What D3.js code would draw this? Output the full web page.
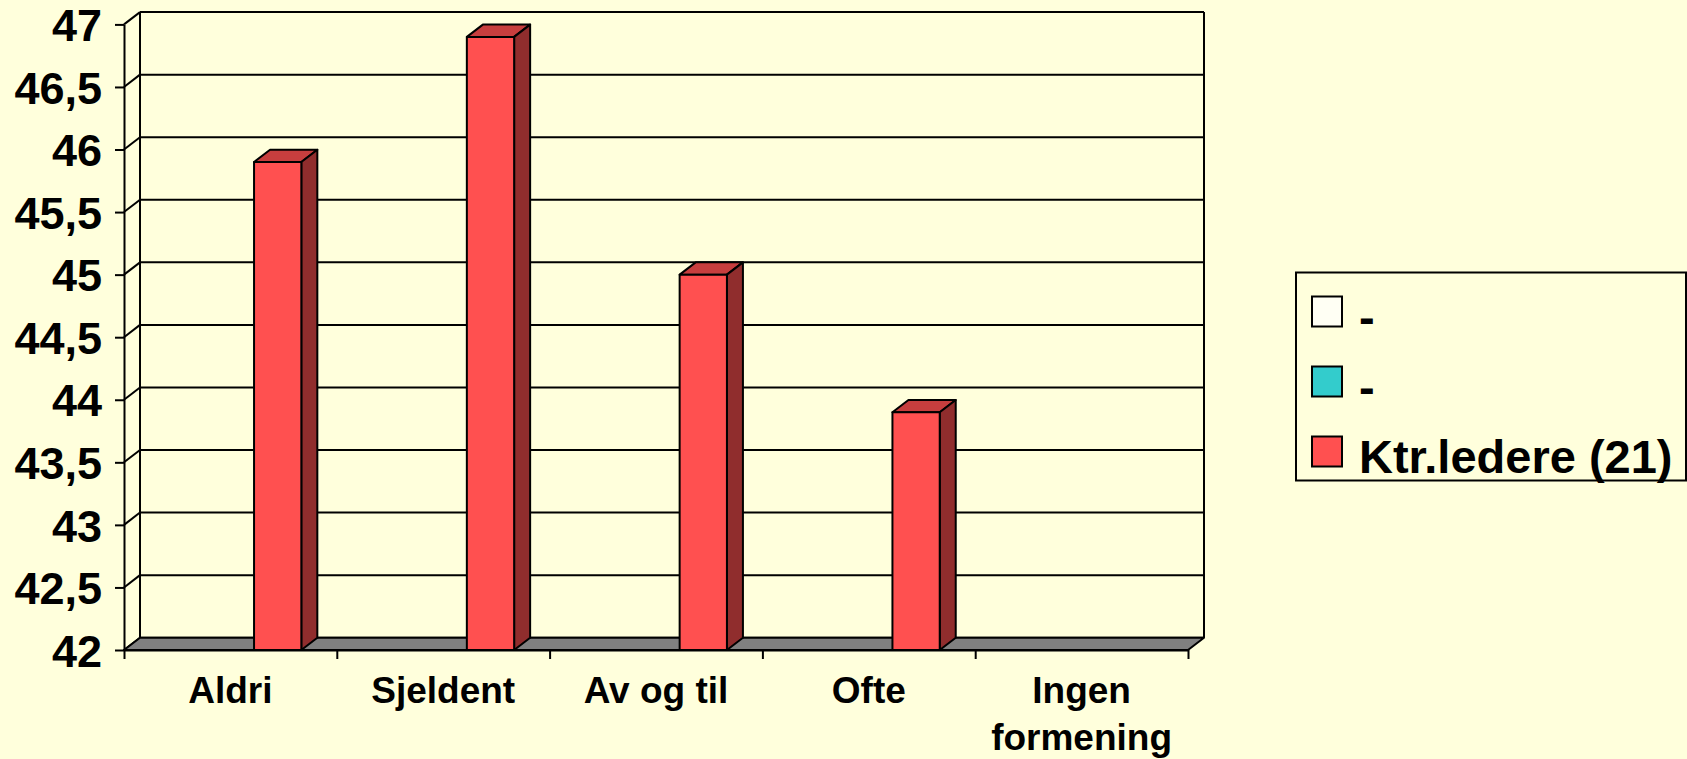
<!DOCTYPE html>
<html>
<head>
<meta charset="utf-8">
<script src="https://cdn.jsdelivr.net/npm/d3@7"></script>
<style>
  html, body { margin: 0; padding: 0; background: #ffffdc; }
  svg { display: block; font-family: "Liberation Sans", Arial, sans-serif; font-weight: bold; }
</style>
</head>
<body>
<div id="chart"></div>
<script>
// data
var categories = ['Aldri', 'Sjeldent', 'Av og til', 'Ofte', 'Ingen formening'];
var seriesNames = ['-', '-', 'Ktr.ledere (21)'];
var seriesColors = ['#fffff4', '#33cccc', '#ff5050'];
var serie1 = [null, null, null, null, null];
var serie2 = [null, null, null, null, null];
var ktrLedere = [45.9, 46.9, 45.0, 43.9, null];
var yTicks = [42, 42.5, 43, 43.5, 44, 44.5, 45, 45.5, 46, 46.5, 47];

var width = 1687, height = 759;
var dx = 16, dy = 12.3;   // 3d depth
var plotLeft = 124, plotRight = 1188, plotBottom = 650, plotTop = 24.4;

var svg = d3.select('#chart').append('svg')
	.attr('width', width)
	.attr('height', height);

svg.append('rect').attr('width', width).attr('height', height).attr('fill', '#ffffdc');

//scalers
var x = d3.scaleBand().domain(d3.range(categories.length)).range([plotLeft, plotRight]);
var xs = d3.scaleBand().domain(d3.range(seriesNames.length))
	.range([0, x.bandwidth()])
	.paddingOuter(0.75);
var y = d3.scaleLinear().domain([42, 47]).range([plotBottom, plotTop]);

var values = [serie1, serie2, ktrLedere];
var bars = [];
values.forEach(function(vals, s){
	vals.forEach(function(v, i){
		if (v != null) bars.push({s: s, i: i, v: v});
	});
});

// back wall gridlines + side wall lines
var grid = svg.append('g').attr('stroke', '#000').attr('stroke-width', 2).attr('fill', 'none');
grid.selectAll('.gh')
	.data(yTicks)
	.enter().append('line')
	.attr('x1', plotLeft + dx).attr('x2', plotRight + dx)
	.attr('y1', function(d){ return y(d) - dy; })
	.attr('y2', function(d){ return y(d) - dy; });
grid.selectAll('.gd')
	.data(yTicks)
	.enter().append('line')
	.attr('x1', plotLeft).attr('x2', plotLeft + dx)
	.attr('y1', function(d){ return y(d); })
	.attr('y2', function(d){ return y(d) - dy; });
// wall edges
grid.append('line').attr('x1', plotLeft + dx).attr('x2', plotLeft + dx).attr('y1', y(47) - dy).attr('y2', y(42) - dy);
grid.append('line').attr('x1', plotRight + dx).attr('x2', plotRight + dx).attr('y1', y(47) - dy).attr('y2', y(42) - dy);

// floor
svg.append('path')
	.attr('d', d3.line()([[plotLeft + dx, y(42) - dy], [plotRight + dx, y(42) - dy], [plotRight, y(42)], [plotLeft, y(42)]]) + 'Z')
	.attr('fill', '#808080')
	.attr('stroke', '#000')
	.attr('stroke-width', 2)
	.attr('stroke-linejoin', 'round');

// bars
var bar = svg.append('g').selectAll('g')
	.data(bars)
	.enter().append('g')
	.attr('stroke', '#000').attr('stroke-width', 2).attr('stroke-linejoin', 'round');

function geo(d){
	var xl = x(d.i) + xs(d.s), w = xs.bandwidth(), yt = y(d.v), yb = y(42);
	return {xl: xl, w: w, yt: yt, yb: yb};
}
bar.append('path')
	.attr('fill', function(d){ return d3.color(seriesColors[d.s]).darker(0.7); })
	.attr('d', function(d){
		var g = geo(d);
		return d3.line()([[g.xl, g.yt], [g.xl + dx, g.yt - dy], [g.xl + g.w + dx, g.yt - dy], [g.xl + g.w, g.yt]]) + 'Z';
	});
bar.append('path')
	.attr('fill', function(d){ return d3.color(seriesColors[d.s]).darker(1.6); })
	.attr('d', function(d){
		var g = geo(d);
		return d3.line()([[g.xl + g.w, g.yt], [g.xl + g.w + dx, g.yt - dy], [g.xl + g.w + dx, g.yb - dy], [g.xl + g.w, g.yb]]) + 'Z';
	});
bar.append('rect')
	.attr('fill', function(d){ return seriesColors[d.s]; })
	.attr('x', function(d){ return geo(d).xl; })
	.attr('y', function(d){ return geo(d).yt; })
	.attr('width', xs.bandwidth())
	.attr('height', function(d){ var g = geo(d); return g.yb - g.yt; });

// y axis
var yAxis = svg.append('g')
	.attr('transform', 'translate(' + plotLeft + ',0)')
	.call(d3.axisLeft(y).tickValues(yTicks).tickSize(9).tickSizeOuter(0).tickPadding(13)
		.tickFormat(function(d){ return String(d).replace('.', ','); }));
yAxis.select('.domain').attr('stroke-width', 2);
yAxis.selectAll('.tick line').attr('stroke-width', 2);
yAxis.selectAll('.tick text')
	.attr('font-size', 45)
	.attr('font-family', '"Liberation Sans", Arial, sans-serif')
	.attr('font-weight', 'bold')
	.attr('fill', '#000')
	.attr('dy', '0.36em');

// x axis boundary ticks
var xb = d3.scaleLinear().domain([0, categories.length]).range([plotLeft, plotRight]);
var xAxis = svg.append('g')
	.attr('transform', 'translate(0,' + plotBottom + ')')
	.call(d3.axisBottom(xb).ticks(categories.length).tickSize(9).tickSizeOuter(0).tickFormat(''));
xAxis.select('.domain').attr('stroke-width', 2);
xAxis.selectAll('.tick line').attr('stroke-width', 2);

// category labels
var lab = svg.append('g').selectAll('text')
	.data(categories)
	.enter().append('text')
	.attr('text-anchor', 'middle')
	.attr('font-size', 37)
	.attr('fill', '#000')
	.attr('x', function(d, i){ return x(i) + x.bandwidth() / 2; })
	.attr('y', 703);
lab.each(function(d){
	var words = d.split(' ');
	var t = d3.select(this);
	if (words.length === 2 && d.length > 12) {
		t.append('tspan').attr('x', t.attr('x')).text(words[0]);
		t.append('tspan').attr('x', t.attr('x')).attr('dy', 47).text(words[1]);
	} else {
		t.text(d);
	}
});

// legend
var legend = svg.append('g');
legend.append('rect')
	.attr('x', 1296).attr('y', 272.5).attr('width', 390).attr('height', 208)
	.attr('fill', 'none').attr('stroke', '#000').attr('stroke-width', 2);
var item = legend.selectAll('.item')
	.data(seriesNames)
	.enter().append('g')
	.attr('transform', function(d, i){ return 'translate(1312,' + (296.5 + i * 70) + ')'; });
item.append('rect')
	.attr('width', 30).attr('height', 30)
	.attr('fill', function(d, i){ return seriesColors[i]; })
	.attr('stroke', '#000').attr('stroke-width', 2);
item.append('text')
	.attr('x', 47).attr('y', 36)
	.attr('font-size', 47)
	.attr('fill', '#000')
	.text(function(d){ return d; });
</script>
</body>
</html>
